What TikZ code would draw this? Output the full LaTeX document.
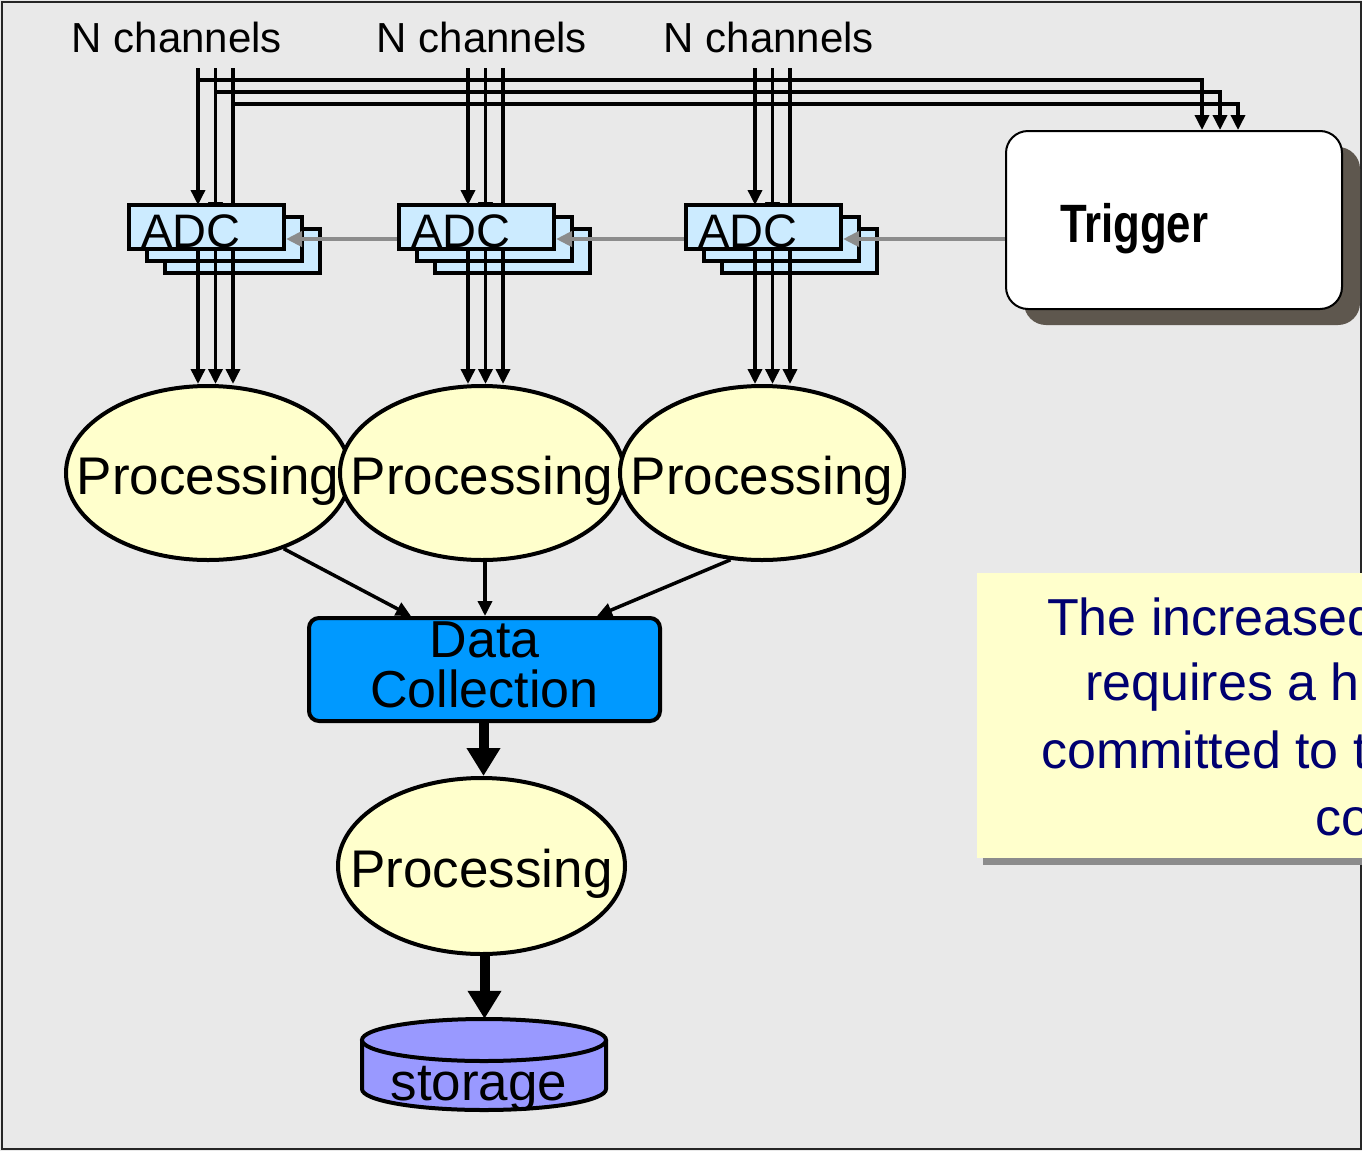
\documentclass[tikz,border=0pt]{standalone}
\usepackage{fontspec}
\setmainfont{Liberation Sans}
\newfontfamily\trigfont{Liberation Sans}[FakeStretch=0.81]
\usepackage{xcolor}
\usetikzlibrary{arrows.meta,shapes.geometric,shadows}

\definecolor{bggray}{HTML}{E9E9E9}
\definecolor{adcblue}{HTML}{CCEBFF}
\definecolor{procyellow}{HTML}{FFFFCC}
\definecolor{dcblue}{HTML}{0099FF}
\definecolor{storblue}{HTML}{9999FF}
\definecolor{trigshadow}{HTML}{5E574E}
\definecolor{trigray}{HTML}{8C8C8C}
\definecolor{notenavy}{HTML}{000070}

\tikzset{
  adcbox/.style={draw, line width=4pt, fill=adcblue, minimum width=155pt, minimum height=44pt, inner sep=0pt},
  procell/.style={draw, ellipse, line width=4pt, fill=procyellow, minimum width=284pt, minimum height=174pt,
    inner sep=0pt, text height=42pt, text depth=0pt, font=\fontsize{53}{53}\selectfont},
  chan/.style={line width=3.5pt, -{Triangle[length=15pt,width=14pt]}},
  trigline/.style={line width=4.5pt, draw=trigray, -{Triangle[length=16pt,width=15pt,fill=trigray]}},
  fatarrow/.style={line width=10pt, -{Triangle[length=28pt,width=32pt]}},
  chanlabel/.style={inner sep=0pt, anchor=base, font=\fontsize{42}{42}\selectfont},
  notetext/.style={inner sep=0pt, anchor=base west, text=notenavy, font=\fontsize{52}{52}\selectfont}
}

\begin{document}
\begin{tikzpicture}[x=1pt, y=-1pt]
\useasboundingbox (0,0) rectangle (1362,1151);
\clip (0,0) rectangle (1362,1151);

% slide background
\fill[bggray] (0,0) rectangle (1362,1151);
\draw[line width=2pt, black!85] (2,1.5) rectangle (1361,1149);

% note on the right
\node[fill=procyellow, minimum width=526pt, minimum height=285pt, inner sep=0pt,
  drop shadow={shadow xshift=6pt, shadow yshift=-7pt, fill=trigray, opacity=1}] (note) at (1240,715.5) {};
\node[notetext] (note1) at (1047,635) {The increased};
\node[notetext] (note2) at (1085,700) {requires a h};
\node[notetext] (note3) at (1041,768) {committed to t};
\node[notetext] (note4) at (1315,835) {co};

% trigger
\node[draw, line width=2pt, fill=white, rounded corners=22pt, minimum width=336pt, minimum height=178pt,
  text width=228pt, align=left, inner xsep=54pt, text height=44pt, text depth=0pt,
  font=\trigfont\bfseries\fontsize{54}{54}\selectfont,
  drop shadow={shadow xshift=18pt, shadow yshift=-16pt, fill=trigshadow, opacity=1}] (trig) at (1174,220) {Trigger};

% channel labels
\node[chanlabel] (lab1) at (177,52) {N channels};
\node[chanlabel] (lab2) at (482,52) {N channels};
\node[chanlabel] (lab3) at (769,52) {N channels};

% channel ends
\foreach \g/\ax in {1/129,2/399,3/686}
  \foreach \k in {0,1,2}{
    \coordinate (ch\g\k) at (\ax+69+17.5*\k, 68);
    \coordinate (in\g\k) at (\ax+69+17.5*\k, 205+12*\k);
  }

% channels to trigger
\foreach \k in {0,1,2}
  \draw[chan] ([yshift={-12pt-12pt*\k}]ch1\k) -| ([xshift={28pt+18pt*\k}]trig.north);

% channels into ADCs
\foreach \g in {1,2,3}
  \foreach \k in {0,1,2}
    \draw[chan] (ch\g\k) -- (in\g\k);

% ADC stacks
\foreach \g/\ax in {1/129,2/399,3/686}{
  \node[adcbox] (adc\g2) at (\ax+113.5,251) {};
  \node[adcbox] (adc\g1) at (\ax+95.5,239) {};
  \node[adcbox, text width=131pt, align=left, inner xsep=11pt, text height=40pt, text depth=0pt,
    font=\fontsize{47}{47}\selectfont] (adc\g0) at (\ax+77.5,227) {ADC};
}

% trigger lines
\draw[trigline] ([yshift=-19pt]trig.west) -- ([yshift=-12pt]adc30.east);
\draw[trigline] ([yshift=-12pt]adc30.west) -- ([yshift=-12pt]adc20.east);
\draw[trigline] ([yshift=-12pt]adc20.west) -- ([yshift=-12pt]adc10.east);

% processing
\node[procell] (p1) at (208,473) {\makebox[0pt]{Processing}};
\node[procell] (p2) at (482,473) {\makebox[0pt]{Processing}};
\node[procell] (p3) at (762,473) {\makebox[0pt]{Processing}};

\foreach \g in {1,2,3}
  \foreach \k in {0,1,2}
    \draw[chan] (ch\g\k |- adc\g0.south) -- (ch\g\k |- p\g.north);

% data collection
\node[draw, line width=4pt, fill=dcblue, rounded corners=10pt, minimum width=351pt, minimum height=103pt,
  inner sep=0pt, align=center, text depth=10pt, font=\fontsize{52}{50}\selectfont] (dc) at (484.5,669.5) {Data\\Collection};

\draw[chan] (p1.-45) -- ([xshift=104pt]dc.north west);
\draw[chan] ([xshift=3pt]p2.south) -- ([xshift=3pt]p2.south |- dc.north);
\draw[chan] (p3.-110) -- ([xshift=-65pt]dc.north east);

\node[procell, minimum width=287pt, minimum height=176pt] (p4) at (481.5,866) {\makebox[0pt]{Processing}};
\draw[fatarrow] ([xshift=-1pt]dc.south) -- ([xshift=-1pt]dc.south |- p4.north);

% storage
\node[minimum width=244pt, minimum height=91pt, inner sep=0pt] (stor) at (484,1064.5) {};
\fill[storblue] (362,1040) -- (362,1089) arc[start angle=180, end angle=360, x radius=122pt, y radius=21pt] -- (606,1040) -- cycle;
\draw[line width=4pt] (362,1040) -- (362,1089) arc[start angle=180, end angle=360, x radius=122pt, y radius=21pt] -- (606,1040);
\draw[line width=4pt, fill=storblue] (484,1040) ellipse [x radius=122pt, y radius=21pt];
\node[inner sep=0pt, anchor=base, font=\fontsize{53}{53}\selectfont] (stortext) at (479,1100) {storage};
\draw[fatarrow] ([xshift=3pt]p4.south) -- ([xshift=3pt]p4.south |- stor.north);
\end{tikzpicture}
\end{document}
